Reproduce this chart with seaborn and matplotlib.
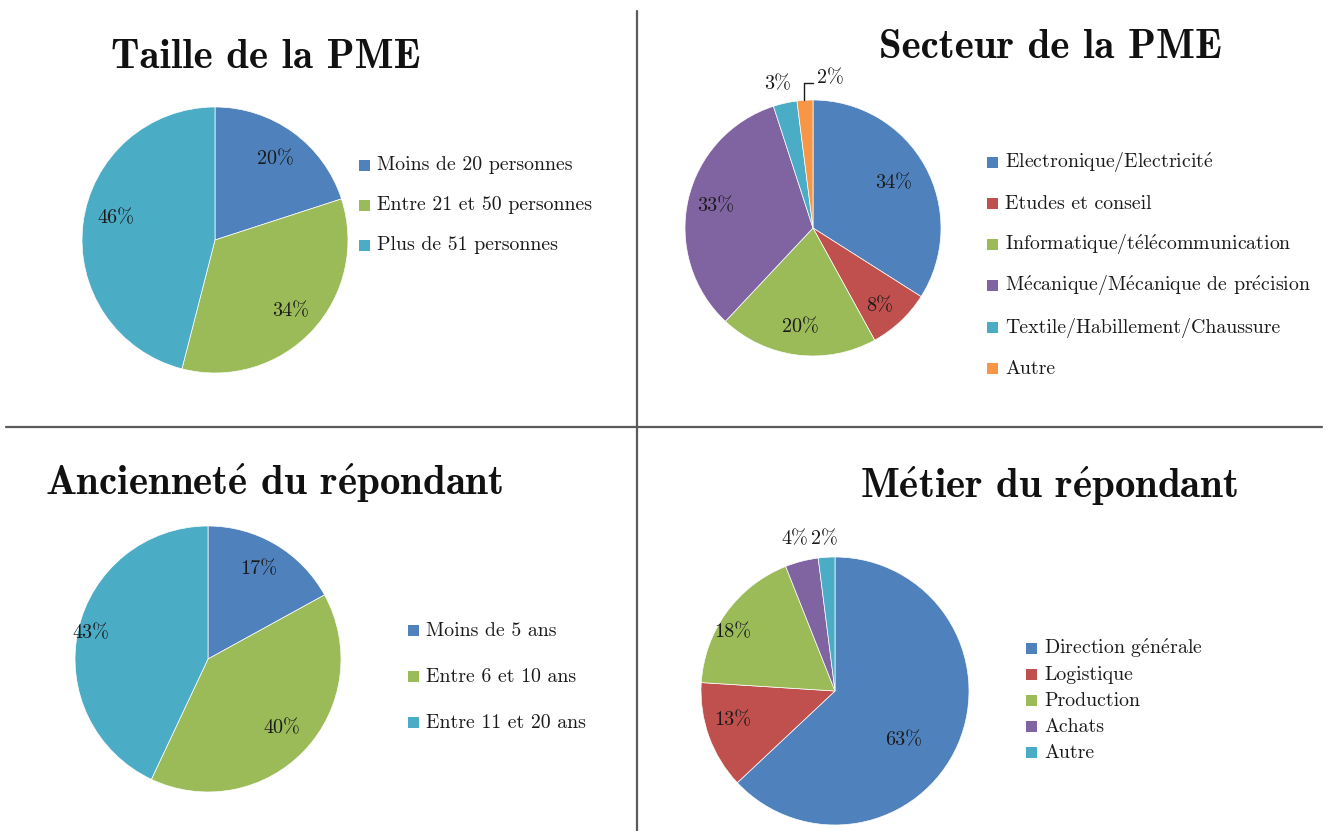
import numpy as np
import matplotlib
matplotlib.use("Agg")
import matplotlib.pyplot as plt
from matplotlib.patches import Rectangle
from matplotlib.lines import Line2D
import seaborn as sns

sns.set_theme(style="white")
plt.rcParams["font.family"] = ["cmr10", "DejaVu Serif"]
plt.rcParams["mathtext.fontset"] = "cm"
plt.rcParams["axes.unicode_minus"] = False

# Office-style palette
BLUE, RED, GREEN, PURPLE, AQUA, ORANGE = sns.color_palette(
    ["#4F81BD", "#C0504D", "#9BBB59", "#8064A2", "#4BACC6", "#F79646"])

# --- Data -------------------------------------------------------------
taille_labels = ["Moins de 20 personnes", "Entre 21 et 50 personnes", "Plus de 51 personnes"]
taille_values = [20, 34, 46]

secteur_labels = ["Electronique/Electricité", "Etudes et conseil",
                  "Informatique/télécommunication", "Mécanique/Mécanique de précision",
                  "Textile/Habillement/Chaussure", "Autre"]
secteur_values = [34, 8, 20, 33, 3, 2]

anciennete_labels = ["Moins de 5 ans", "Entre 6 et 10 ans", "Entre 11 et 20 ans"]
anciennete_values = [17, 40, 43]

metier_labels = ["Direction générale", "Logistique", "Production", "Achats", "Autre"]
metier_values = [63, 13, 18, 4, 2]

W, H = 1327, 831
fig = plt.figure(figsize=(W / 100, H / 100), dpi=100)
fig.patch.set_facecolor("white")

LABEL_FS = 14.5
LEGEND_FS = 14.3
TITLE_FS = 29.5
INK = "#1a1a1a"


def tex(s, bold=False):
    """Computer Modern text: the TeX fonts carry no precomposed é, so build it as an accent."""
    acc = r"$\mathbf{\acute{e}}$" if bold else r"$\mathrm{\acute{e}}$"
    return s.replace("é", acc)


def fx(px):
    return px / W


def fy(py):
    return 1 - py / H


def px_axes(cx, cy, r):
    """Axes whose data square [-1,1]^2 covers a circle at pixel (cx, cy) of radius r."""
    return fig.add_axes([(cx - r) / W, 1 - (cy + r) / H, 2 * r / W, 2 * r / H])


def draw_pie(ax, values, colors, label_pos):
    """label_pos: per-slice (radius, angle shift in degrees) or None for no inner label."""
    ax.pie(values, colors=colors, startangle=90, counterclock=False,
           wedgeprops=dict(linewidth=0.5, edgecolor="white"))
    ax.set_xlim(-1, 1)
    ax.set_ylim(-1, 1)
    ax.set_aspect("auto")
    ax.axis("off")
    total = float(sum(values))
    start = 90.0
    for v, pos in zip(values, label_pos):
        span = 360.0 * v / total
        mid = start - span / 2
        start -= span
        if pos is None:
            continue
        rad, shift = pos
        a = np.deg2rad(mid + shift)
        ax.text(rad * np.cos(a), rad * np.sin(a), f"{v}%", ha="center", va="center",
                fontsize=LABEL_FS, color=INK)


def outer_label(ax, value, x, y, ha="center"):
    ax.text(x, y, f"{value}%", ha=ha, va="center", fontsize=LABEL_FS,
            color=INK, clip_on=False)


def legend(colors, labels, x, y0, dy, size=11, gap=7):
    """Square swatches with labels; rows are evenly spaced whatever glyphs they contain."""
    for i, (c, lab) in enumerate(zip(colors, labels)):
        base = y0 + i * dy + size / 2
        fig.add_artist(Rectangle((fx(x), fy(base)), size / W, size / H,
                                 transform=fig.transFigure, facecolor=c,
                                 edgecolor="none"))
        fig.text(fx(x + size + gap), fy(base), tex(lab), ha="left", va="baseline",
                 fontsize=LEGEND_FS, color=INK)


def title(text, x, y):
    fig.text(fx(x), fy(y), tex(text, bold=True), ha="center", va="center",
             fontsize=TITLE_FS, fontweight="bold", family=["cmb10", "DejaVu Serif"],
             color="#111111")


# --- Taille de la PME --------------------------------------------------
ax1 = px_axes(215, 240, 133)
draw_pie(ax1, taille_values, [BLUE, GREEN, AQUA],
         [(0.76, -1), (0.78, 0), (0.76, -5)])
title("Taille de la PME", 266, 57)
legend([BLUE, GREEN, AQUA], taille_labels, 359, 165, 40)

# --- Secteur de la PME -------------------------------------------------
ax2 = px_axes(813, 228, 128)
draw_pie(ax2, secteur_values, [BLUE, RED, GREEN, PURPLE, AQUA, ORANGE],
         [(0.72, 0), (0.80, -3), (0.78, 0), (0.78, 0), None, None])
outer_label(ax2, secteur_values[4], -0.28, 1.12)
outer_label(ax2, secteur_values[5], 0.03, 1.17, ha="left")
ax2.add_line(Line2D([-0.07, -0.07, 0.0], [1.0, 1.13, 1.13], color=INK,
                    linewidth=1.0, clip_on=False))
title("Secteur de la PME", 1050, 47)
legend([BLUE, RED, GREEN, PURPLE, AQUA, ORANGE], secteur_labels, 987, 162.3, 41.2)

# --- Ancienneté du répondant --------------------------------------------
ax3 = px_axes(208, 659, 133)
draw_pie(ax3, anciennete_values, [BLUE, GREEN, AQUA],
         [(0.78, 1), (0.76, 0), (0.90, 0)])
title("Ancienneté du répondant", 274, 483)
legend([BLUE, GREEN, AQUA], anciennete_labels, 408, 630, 46)

# --- Métier du répondant -----------------------------------------------
ax4 = px_axes(835, 691, 134)
draw_pie(ax4, metier_values, [BLUE, RED, GREEN, PURPLE, AQUA],
         [(0.63, -12), (0.79, -4), (0.88, 6), None, None])
outer_label(ax4, metier_values[3], -0.30, 1.13)
outer_label(ax4, metier_values[4], -0.08, 1.13)
title("Métier du répondant", 1049, 486)
legend([BLUE, RED, GREEN, PURPLE, AQUA], metier_labels, 1026, 648.5, 26.1)

# --- Quadrant separators ------------------------------------------------
fig.add_artist(Line2D([fx(637), fx(637)], [0, fy(11)], color="#5a5a5a",
                      linewidth=1.6, transform=fig.transFigure))
fig.add_artist(Line2D([fx(6), fx(1322)], [fy(427), fy(427)], color="#5a5a5a",
                      linewidth=1.6, transform=fig.transFigure))

fig.savefig("out.png", dpi=100, facecolor="white")
